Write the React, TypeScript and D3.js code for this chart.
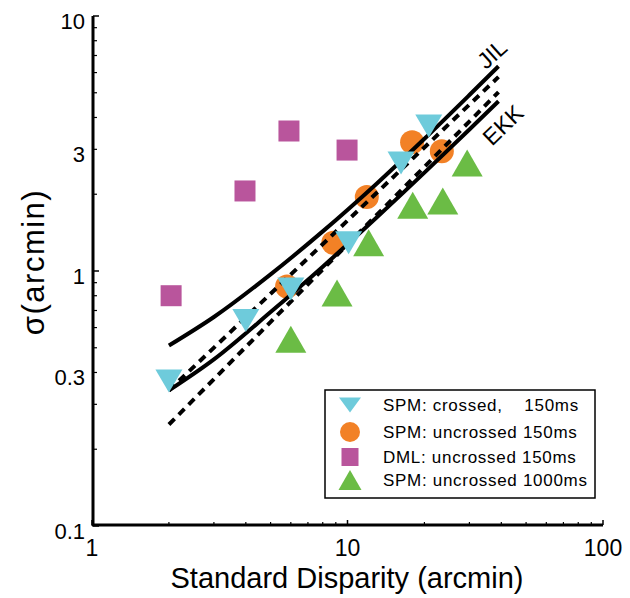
import React from "react";
import * as d3 from "d3";

const crossedX = [2, 4, 6, 10.1, 16.2, 20.8];
const crossedY = [0.37, 0.64, 0.85, 1.29, 2.65, 3.7];
const uncrossedX = [5.8, 8.8, 11.9, 17.9, 23.4];
const uncrossedY = [0.87, 1.29, 1.95, 3.2, 2.95];
const dmlX = [2.04, 3.97, 5.9, 9.96];
const dmlY = [0.8, 2.06, 3.54, 2.98];
const longX = [6.0, 9.1, 12.1, 18.0, 23.6, 29.4];
const longY = [0.54, 0.82, 1.29, 1.81, 1.88, 2.65];

const curveX = [2, 3, 5, 8, 13, 20, 30, 39];
const jilY = [0.51, 0.66, 0.97, 1.43, 2.2, 3.3, 4.9, 6.35];
const ekkY = [0.34, 0.45, 0.69, 1.04, 1.62, 2.43, 3.59, 4.63];
const dashX = [2, 39];
const dashUpperY = [0.34, 5.77];
const dashLowerY = [0.25, 5.03];

const xTickLabels = [1, 10, 100];
const yTickLabels = ["10", "3", "1", "0.3", "0.1"];
const yTickLabelPos = [10, 3, 1, 0.4, 0.1];
const xMinor = [2, 3, 4, 5, 6, 7, 8, 9, 20, 30, 40, 50, 60, 70, 80, 90];
const yMinor = [0.2, 0.3, 0.4, 0.5, 0.6, 0.7, 0.8, 0.9, 2, 3, 4, 5, 6, 7, 8, 9];
const legendLabels = [
  "SPM: crossed,    150ms",
  "SPM: uncrossed 150ms",
  "DML: uncrossed 150ms",
  "SPM: uncrossed 1000ms",
];

const CYAN = "#6ecbdb";
const ORANGE = "#f28126";
const MAGENTA = "#b9559c";
const GREEN = "#6bbc45";
const FONT = "'Liberation Sans', Arial, Helvetica, sans-serif";

const x = d3.scaleLog().domain([1, 100]).range([92, 603]);
const y = d3.scaleLog().domain([0.1, 10]).range([526, 16]);

const line = d3
  .line<[number, number]>()
  .x((d) => x(d[0]))
  .y((d) => y(d[1]))
  .curve(d3.curveMonotoneX);

const zip = (a: number[], b: number[]) => a.map((v, i) => [v, b[i]] as [number, number]);

function TriDown({ cx, cy, w, h, fill }: any) {
  return (
    <path
      d={`M${cx - w / 2},${cy - h / 2}L${cx + w / 2},${cy - h / 2}L${cx},${cy + h / 2}Z`}
      fill={fill}
    />
  );
}
function TriUp({ cx, cy, w, h, fill }: any) {
  return (
    <path
      d={`M${cx - w / 2},${cy + h / 2}L${cx + w / 2},${cy + h / 2}L${cx},${cy - h / 2}Z`}
      fill={fill}
    />
  );
}

export default function App() {
  const legendRows = [405, 432, 457, 480];
  return (
    <svg
      width={630}
      height={598}
      style={{ position: "absolute", left: 0, top: 0, background: "#fff" }}
      fontFamily={FONT}
    >
      {/* axes */}
      <path d={`M${x(1) + 1},${y(10)}V${y(0.1)}`} stroke="#000" strokeWidth={3} fill="none" />
      <path d={`M${x(1)},${y(0.1) - 1}H${x(100)}`} stroke="#000" strokeWidth={3} fill="none" />
      {[10, 1, 0.1].map((v) => (
        <line key={"ym" + v} x1={x(1) + 1} x2={x(1) + 7} y1={y(v)} y2={y(v)} stroke="#000" strokeWidth={1.5} />
      ))}
      {yMinor.map((v) => (
        <line key={"yn" + v} x1={x(1) + 1} x2={x(1) + 5} y1={y(v)} y2={y(v)} stroke="#000" strokeWidth={1.2} />
      ))}
      {xTickLabels.map((v) => (
        <line key={"xm" + v} x1={x(v)} x2={x(v)} y1={y(0.1) - 1} y2={y(0.1) - 6} stroke="#000" strokeWidth={1.5} />
      ))}
      {xMinor.map((v) => (
        <line key={"xn" + v} x1={x(v)} x2={x(v)} y1={y(0.1) - 1} y2={y(0.1) - 4} stroke="#000" strokeWidth={1.2} />
      ))}
      {yTickLabels.map((t, i) => (
        <text key={"yl" + t} x={85} y={y(yTickLabelPos[i]) + 13} fontSize={22} textAnchor="end">
          {t}
        </text>
      ))}
      {xTickLabels.map((v) => (
        <text key={"xl" + v} x={x(v)} y={556} fontSize={23} textAnchor="middle">
          {v}
        </text>
      ))}
      <text x={347} y={588} fontSize={29} textAnchor="middle">
        Standard Disparity (arcmin)
      </text>
      <text transform="translate(44,262) rotate(-90)" fontSize={31} letterSpacing={1.5} textAnchor="middle">
        σ(arcmin)
      </text>

      {/* orange circles beneath lines */}
      {zip(uncrossedX, uncrossedY).map((d, i) => (
        <circle key={"o" + i} cx={x(d[0])} cy={y(d[1])} r={12} fill={ORANGE} />
      ))}

      {/* model lines */}
      <path d={line(zip(curveX, jilY)) || ""} stroke="#000" strokeWidth={4} fill="none" />
      <path d={line(zip(curveX, ekkY)) || ""} stroke="#000" strokeWidth={4} fill="none" />
      <path d={line(zip(dashX, dashUpperY)) || ""} stroke="#000" strokeWidth={4} fill="none" strokeDasharray="8,6" />
      <path d={line(zip(dashX, dashLowerY)) || ""} stroke="#000" strokeWidth={4} fill="none" strokeDasharray="8,6" />

      {zip(dmlX, dmlY).map((d, i) => (
        <rect key={"m" + i} x={x(d[0]) - 10.5} y={y(d[1]) - 10.5} width={21} height={21} fill={MAGENTA} />
      ))}
      {zip(longX, longY).map((d, i) => (
        <TriUp key={"g" + i} cx={x(d[0])} cy={y(d[1])} w={31} h={27} fill={GREEN} />
      ))}
      {zip(crossedX, crossedY).map((d, i) => (
        <TriDown key={"c" + i} cx={x(d[0])} cy={y(d[1])} w={27} h={23} fill={CYAN} />
      ))}

      <text transform="translate(492,54) rotate(-42)" fontSize={23} textAnchor="middle" dominantBaseline="central">
        JIL
      </text>
      <text transform="translate(503,125) rotate(-44)" fontSize={23} textAnchor="middle" dominantBaseline="central">
        EKK
      </text>

      {/* legend */}
      <rect x={325} y={390} width={270} height={108} fill="#fff" stroke="#000" strokeWidth={1.5} />
      <TriDown cx={350} cy={legendRows[0]} w={22} h={15} fill={CYAN} />
      <circle cx={350} cy={legendRows[1]} r={10} fill={ORANGE} />
      <rect x={341.5} y={legendRows[2] - 9} width={17} height={18} fill={MAGENTA} />
      <TriUp cx={350} cy={legendRows[3]} w={23} h={20} fill={GREEN} />
      {legendLabels.map((t, i) => (
        <text key={"lg" + i} x={383} y={legendRows[i] + 6} fontSize={17} letterSpacing={0.7} style={{ whiteSpace: "pre" }}>
          {t}
        </text>
      ))}
    </svg>
  );
}
